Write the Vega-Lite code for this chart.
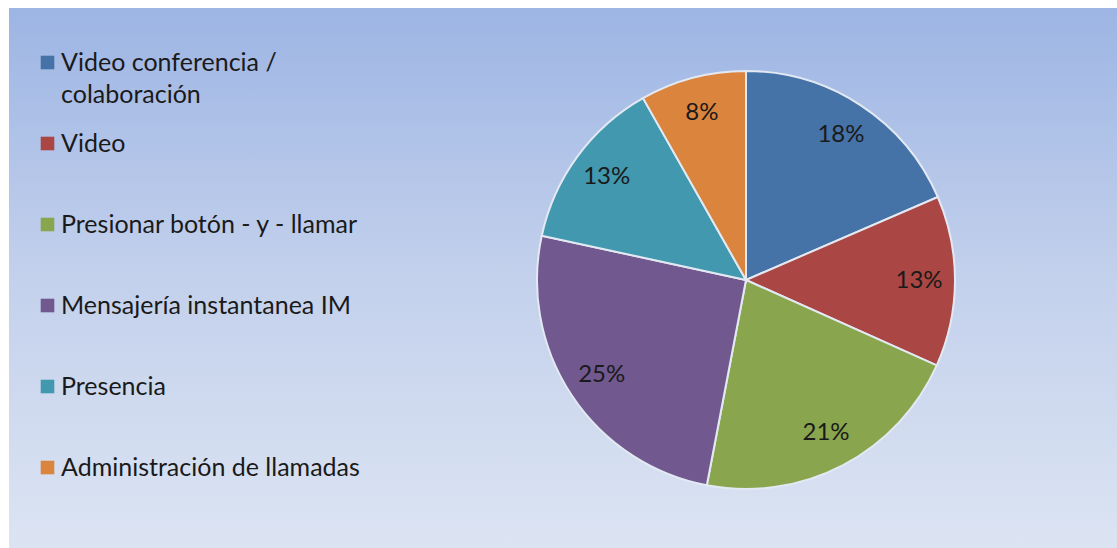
{
  "$schema": "https://vega.github.io/schema/vega-lite/v6.json",
  "width": 1120,
  "height": 552,
  "autosize": {"type": "none"},
  "padding": {"left": 9, "top": 8, "right": 0, "bottom": 0},
  "background": "white",
  "config": {
    "view": {"stroke": "#7f7f7f", "strokeWidth": 3},
    "style": {"guide-label": {"lineHeight": 32}}
  },
  "data": {
    "values": [
      {"idx": 1, "categoria": "Video conferencia / colaboración", "valor": 18.5, "etiqueta": "18%"},
      {"idx": 2, "categoria": "Video", "valor": 13.2, "etiqueta": "13%"},
      {"idx": 3, "categoria": "Presionar botón - y -  llamar", "valor": 21.3, "etiqueta": "21%"},
      {"idx": 4, "categoria": "Mensajería instantanea IM", "valor": 25.4, "etiqueta": "25%"},
      {"idx": 5, "categoria": "Presencia", "valor": 13.4, "etiqueta": "13%"},
      {"idx": 6, "categoria": "Administración de llamadas", "valor": 8.2, "etiqueta": "8%"}
    ]
  },
  "layer": [
    {
      "data": {"values": [{"bg": 1}]},
      "mark": {
        "type": "rect",
        "color": {
          "gradient": "linear",
          "x1": 0, "y1": 0, "x2": 0, "y2": 1,
          "stops": [
            {"offset": 0, "color": "#9db5e4"},
            {"offset": 0.5, "color": "#c4d1ec"},
            {"offset": 1, "color": "#dde5f3"}
          ]
        }
      },
      "encoding": {}
    },
    {
      "mark": {"type": "arc", "outerRadius": 209, "x": 737, "y": 272, "stroke": "#e3e9f2", "strokeWidth": 2},
      "encoding": {
        "theta": {"field": "valor", "type": "quantitative", "stack": true},
        "order": {"field": "idx", "type": "quantitative"},
        "color": {
          "field": "categoria",
          "type": "nominal",
          "scale": {
            "domain": ["Video conferencia / colaboración", "Video", "Presionar botón - y -  llamar", "Mensajería instantanea IM", "Presencia", "Administración de llamadas"],
            "range": ["#4572a7", "#aa4643", "#89a54e", "#71588f", "#4198af", "#db843d"]
          },
          "legend": {
            "title": null,
            "orient": "none",
            "legendX": 26,
            "legendY": 42,
            "padding": 0,
            "gridAlign": "all",
            "symbolType": "square",
            "symbolSize": 185,
            "symbolStrokeWidth": 0,
            "symbolOpacity": 1,
            "labelFont": "Lato",
            "labelFontSize": 25,
            "labelColor": "#1a1a1a",
            "labelLimit": 500,
            "labelOffset": 1,
            "rowPadding": 23,
            "labelExpr": "datum.label == 'Video conferencia / colaboración' ? ['Video conferencia /', 'colaboración'] : datum.label"
          }
        }
      }
    },
    {
      "mark": {"type": "text", "radius": 173, "x": 737, "y": 272, "font": "Lato", "fontSize": 24, "color": "#1a1a1a"},
      "encoding": {
        "theta": {"field": "valor", "type": "quantitative", "stack": true},
        "order": {"field": "idx", "type": "quantitative"},
        "text": {"field": "etiqueta"}
      }
    }
  ]
}
